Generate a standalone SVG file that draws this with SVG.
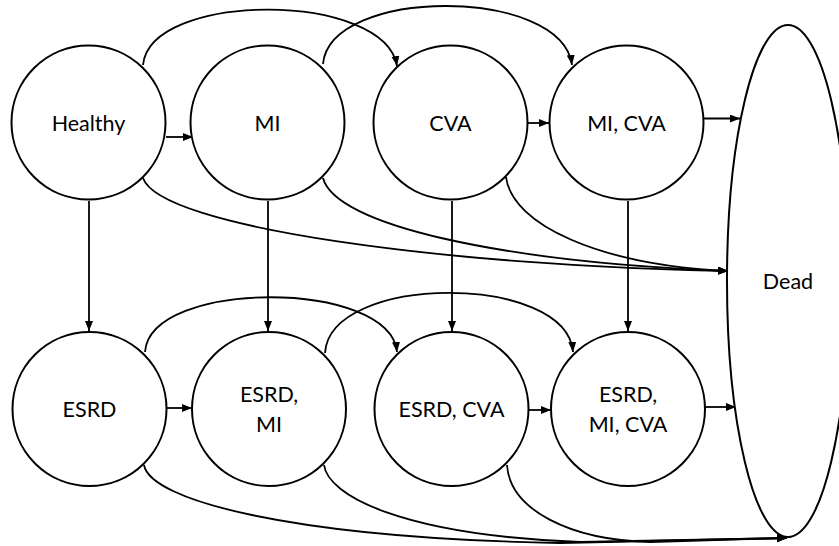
<svg xmlns="http://www.w3.org/2000/svg" width="839" height="546" viewBox="0 0 839 546">
<defs>
<style>
.node{fill:#fff;stroke:#000;stroke-width:2}
.lbl{font-family:Lato,"Open Sans",sans-serif;font-size:21.5px;fill:#000;text-anchor:middle}
.c{fill:none;stroke:#000;stroke-width:1.8;marker-end:url(#ah)}
</style>
<marker id="ah" markerUnits="userSpaceOnUse" markerWidth="11" markerHeight="9" refX="10" refY="4" orient="auto">
<path d="M0,0 L10,4 L0,8 z" fill="#000"/>
</marker>
</defs>
<rect width="839" height="546" fill="#fff"/>
<g id="connectors">
<path class="c" d="M143,65 C150,-9 385,-9 397,66"/>
<path class="c" d="M323,64 C330,-13.5 562,-13.5 572,65"/>
<path class="c" d="M145,352 C150,279 390,279 397,352"/>
<path class="c" d="M325,353 C330,273 567,273 573,352"/>
<path class="c" d="M166,137 L193,137"/>
<path class="c" d="M527,123 L549,123"/>
<path class="c" d="M704,118.5 L740,118.5"/>
<path class="c" d="M166,408 L192,408"/>
<path class="c" d="M528,410 L551,410"/>
<path class="c" d="M705,407 L736,407"/>
<path class="c" d="M89,201 L89,331"/>
<path class="c" d="M268,201 L268,331"/>
<path class="c" d="M452,201 L452,331"/>
<path class="c" d="M628,201 L628,331"/>
<path class="c" d="M143,178 C160,228 450,266 728,271"/>
<path class="c" d="M323,178 C335,225 500,262 728,271"/>
<path class="c" d="M506,177 C512,225 600,265 728,271"/>
<path class="c" d="M144,465 C150,500 290,538 560,543 L787,538"/>
<path class="c" d="M324,465 C328,495 400,535 580,542 L787,538"/>
<path class="c" d="M507,465 C510,510 570,540 650,542 L787,538"/>
</g>
<g id="dead"><ellipse class="node" cx="788" cy="281" rx="61" ry="256" fill="none"/><text class="lbl" x="788" y="289">Dead</text></g>
<g id="healthy"><circle class="node" cx="88.5" cy="122.5" r="77"/><text class="lbl" x="88.5" y="131">Healthy</text></g>
<g id="mi"><circle class="node" cx="267.5" cy="122.5" r="77"/><text class="lbl" x="267.5" y="131">MI</text></g>
<g id="cva"><circle class="node" cx="450.5" cy="122.5" r="77"/><text class="lbl" x="450.5" y="131">CVA</text></g>
<g id="mi-cva"><circle class="node" cx="626.5" cy="122.5" r="77"/><text class="lbl" x="626.5" y="131">MI, CVA</text></g>
<g id="esrd"><circle class="node" cx="89.5" cy="409" r="77"/><text class="lbl" x="89.5" y="417">ESRD</text></g>
<g id="esrd-mi"><circle class="node" cx="269" cy="409" r="77"/><text class="lbl" x="269" y="402">ESRD,</text><text class="lbl" x="269" y="432">MI</text></g>
<g id="esrd-cva"><circle class="node" cx="451.5" cy="409" r="77"/><text class="lbl" x="451.5" y="417">ESRD, CVA</text></g>
<g id="esrd-mi-cva"><circle class="node" cx="628" cy="409" r="77"/><text class="lbl" x="628" y="402">ESRD,</text><text class="lbl" x="628" y="432">MI, CVA</text></g>
</svg>
